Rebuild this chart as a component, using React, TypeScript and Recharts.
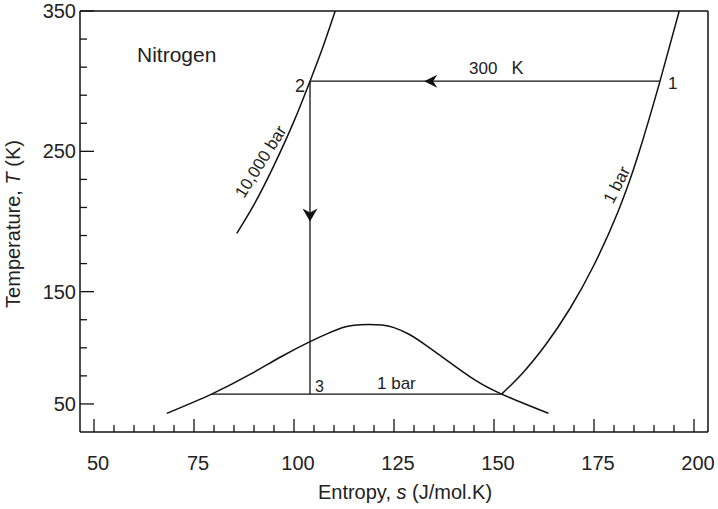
import { ComposedChart, Line, Scatter, XAxis, YAxis, ReferenceLine } from "recharts";

// s (J/mol.K) vs T (K)
const isobar10000bar = [
  { s: 85.7, T: 191.6 },
  { s: 90, T: 212 },
  { s: 95, T: 240 },
  { s: 100, T: 271.5 },
  { s: 104, T: 300 },
  { s: 107, T: 322.5 },
  { s: 110.3, T: 350 },
];

const isobar1bar = [
  { s: 151.9, T: 77 },
  { s: 157, T: 91.5 },
  { s: 163, T: 112.5 },
  { s: 169, T: 138 },
  { s: 175, T: 169 },
  { s: 181, T: 207 },
  { s: 186, T: 247 },
  { s: 191.5, T: 300 },
  { s: 196.5, T: 352 },
];

const saturationDome = [
  { s: 68.2, T: 63.3 },
  { s: 79.4, T: 77 },
  { s: 89, T: 91 },
  { s: 97, T: 104 },
  { s: 104, T: 114.4 },
  { s: 108.5, T: 120.3 },
  { s: 112, T: 124.3 },
  { s: 115, T: 126.1 },
  { s: 118.5, T: 126.6 },
  { s: 122, T: 126.2 },
  { s: 125, T: 124.4 },
  { s: 128.5, T: 120 },
  { s: 132.3, T: 113.2 },
  { s: 139, T: 99.5 },
  { s: 145, T: 87.5 },
  { s: 151.9, T: 77 },
  { s: 163.6, T: 63.3 },
];

const isothermal300K = [
  { s: 191.5, T: 300 },
  { s: 104, T: 300 },
];

const expansion = [
  { s: 104, T: 300 },
  { s: 104, T: 77 },
];

const twoPhase1bar = [
  { s: 79.4, T: 77 },
  { s: 151.9, T: 77 },
];

const arrows = [
  { s: 134.3, T: 300, dir: "left" },
  { s: 104, T: 205, dir: "down" },
];

const labels = [
  { s: 60.75, T: 313.7, text: "Nitrogen", size: 21, anchor: "start", rotate: 0 },
  { s: 102.75, T: 292.5, text: "2", size: 18, anchor: "end", rotate: 0 },
  { s: 193.5, T: 294.2, text: "1", size: 17, anchor: "start", rotate: 0 },
  { s: 143.75, T: 305.1, text: "300", size: 17, anchor: "start", rotate: 0 },
  { s: 154.4, T: 305.1, text: "K", size: 18, anchor: "start", rotate: 0 },
  { s: 105.25, T: 78.7, text: "3", size: 16, anchor: "start", rotate: 0 },
  { s: 120.75, T: 80.6, text: "1 bar", size: 17, anchor: "start", rotate: 0 },
  { s: 91.7, T: 242.6, text: "10,000 bar", size: 17, anchor: "middle", rotate: -58 },
  { s: 180.7, T: 226, text: "1 bar", size: 17, anchor: "middle", rotate: -63 },
];

const xTicks = Array.from({ length: 31 }, (_, i) => 50 + i * 5);
const yTicks = Array.from({ length: 15 }, (_, i) => 350 - i * 20);
const yTickLabels: Record<number, string> = { 350: "350", 250: "250", 150: "150", 70: "50" };

const INK = "#111";
const TEXT = "#222";

const XTick = (props: any) => {
  const { x, y, payload } = props;
  const major = payload.value % 25 === 0;
  return (
    <g>
      <line x1={x} y1={y} x2={x} y2={y - (major ? 13 : 7)} stroke={INK} strokeWidth={1.3} />
      {major && (
        <text x={x + 4} y={y + 38} textAnchor="middle" fontSize={20} fill={TEXT}>
          {payload.value}
        </text>
      )}
    </g>
  );
};

const YTick = (props: any) => {
  const { x, y, payload } = props;
  const label = yTickLabels[payload.value];
  return (
    <g>
      <line x1={x} y1={y} x2={x + (label ? 14 : 7)} y2={y} stroke={INK} strokeWidth={1.3} />
      {label && (
        <text x={x - 4} y={y + 7} textAnchor="end" fontSize={20} fill={TEXT}>
          {label}
        </text>
      )}
    </g>
  );
};

const XTitle = () => (
  <text x={405} y={499} textAnchor="middle" fontSize={20} fill={TEXT}>
    Entropy, <tspan fontStyle="italic">s</tspan> (J/mol.K)
  </text>
);

const YTitle = () => (
  <text x={20} y={224} textAnchor="middle" fontSize={20} fill={TEXT} transform="rotate(-90 20 224)">
    Temperature, <tspan fontStyle="italic">T</tspan> (K)
  </text>
);

const ArrowShape = (props: any) => {
  const { cx, cy, payload } = props;
  if (payload.dir === "down") {
    return (
      <path
        d={`M${cx},${cy + 7} L${cx - 7.5},${cy - 6} L${cx},${cy - 2} L${cx + 7.5},${cy - 6} Z`}
        fill={INK}
      />
    );
  }
  return (
    <path
      d={`M${cx - 7},${cy} L${cx + 6},${cy - 6.5} L${cx + 2},${cy} L${cx + 6},${cy + 6.5} Z`}
      fill={INK}
    />
  );
};

const LabelShape = (props: any) => {
  const { cx, cy, payload } = props;
  return (
    <text
      x={cx}
      y={cy}
      fontSize={payload.size}
      fill={TEXT}
      textAnchor={payload.anchor}
      dominantBaseline={payload.rotate ? "central" : "auto"}
      transform={payload.rotate ? `rotate(${payload.rotate} ${cx} ${cy})` : undefined}
    >
      {payload.text}
    </text>
  );
};

const curve = { stroke: INK, strokeWidth: 1.5, dot: false, isAnimationActive: false } as const;

export default function App() {
  return (
    <div style={{ position: "absolute", left: 0, top: 0, width: 718, height: 509, background: "#fff" }}>
      <ComposedChart
        width={718}
        height={509}
        margin={{ top: 11, right: 10, bottom: 0, left: 0 }}
        style={{ fontFamily: "'Liberation Sans', Arial, Helvetica, sans-serif" }}
      >
        <XAxis
          dataKey="s"
          type="number"
          domain={[46.5, 203.5]}
          ticks={xTicks}
          interval={0}
          tickSize={0}
          tickMargin={0}
          tickLine={false}
          tick={<XTick />}
          height={77}
          axisLine={{ stroke: INK, strokeWidth: 1.5 }}
          allowDataOverflow
          label={<XTitle />}
        />
        <YAxis
          dataKey="T"
          type="number"
          domain={[50, 350]}
          ticks={yTicks}
          interval={0}
          tickSize={0}
          tickMargin={0}
          tickLine={false}
          tick={<YTick />}
          width={80}
          axisLine={{ stroke: INK, strokeWidth: 1.5 }}
          allowDataOverflow
          label={<YTitle />}
        />
        <ReferenceLine y={350} stroke={INK} strokeWidth={1.5} />
        <ReferenceLine x={203.5} stroke={INK} strokeWidth={1.5} />
        <Line data={isobar10000bar} dataKey="T" type="natural" {...curve} />
        <Line data={isobar1bar} dataKey="T" type="natural" {...curve} />
        <Line data={saturationDome} dataKey="T" type="natural" {...curve} />
        <Line data={isothermal300K} dataKey="T" type="linear" {...curve} strokeWidth={1.3} />
        <Line data={expansion} dataKey="T" type="linear" {...curve} strokeWidth={1.3} />
        <Line data={twoPhase1bar} dataKey="T" type="linear" {...curve} strokeWidth={1.3} />
        <Scatter data={arrows} dataKey="T" shape={<ArrowShape />} isAnimationActive={false} />
        <Scatter data={labels} dataKey="T" shape={<LabelShape />} isAnimationActive={false} />
      </ComposedChart>
    </div>
  );
}
